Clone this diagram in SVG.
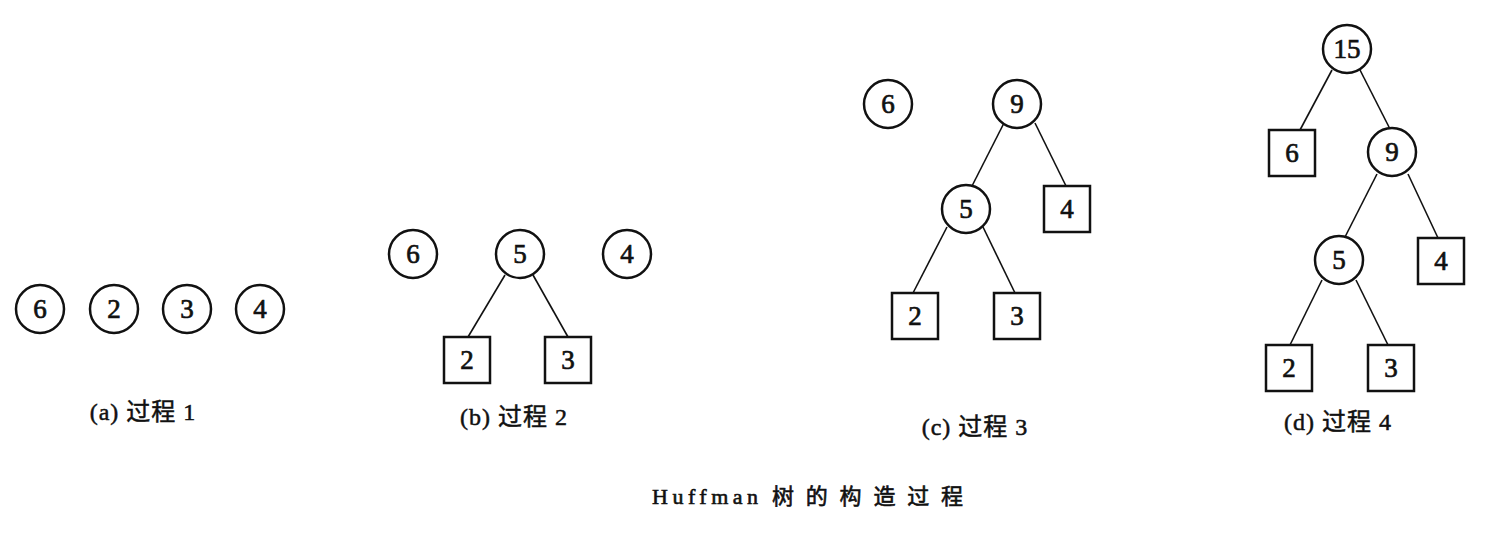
<svg xmlns="http://www.w3.org/2000/svg" width="1491" height="534" viewBox="0 0 1491 534">
<style>
.n circle{fill:#fff;stroke:#111;stroke-width:2.5}
.n rect{fill:#fff;stroke:#111;stroke-width:2.5}
.n text{font-family:"Liberation Serif","Noto Sans CJK SC",serif;font-size:27px;fill:#111;stroke:#111;stroke-width:0.7;text-anchor:middle;dominant-baseline:central}
.e line{stroke:#111;stroke-width:1.6}
.cap{font-family:"Liberation Serif","Noto Sans CJK SC",serif;font-size:24px;letter-spacing:1px;fill:#111;stroke:#111;stroke-width:0.5;text-anchor:middle}
.title{font-family:"Liberation Serif","Noto Sans CJK SC",serif;font-size:22px;fill:#111;stroke:#111;stroke-width:0.6}
</style>
<rect width="1491" height="534" fill="#fff"/>
<g id="connectors" class="e">
<line x1="505" y1="275" x2="468" y2="337"/>
<line x1="533" y1="275" x2="568" y2="337"/>
<line x1="1004" y1="123" x2="972" y2="186"/>
<line x1="1035" y1="123" x2="1066" y2="186"/>
<line x1="947" y1="227" x2="913" y2="293"/>
<line x1="983" y1="227" x2="1015" y2="293"/>
<line x1="1332" y1="70" x2="1300" y2="130"/>
<line x1="1360" y1="70" x2="1390" y2="129"/>
<line x1="1377" y1="174" x2="1345" y2="237"/>
<line x1="1408" y1="174" x2="1438" y2="238"/>
<line x1="1322" y1="280" x2="1290" y2="345"/>
<line x1="1356" y1="280" x2="1388" y2="345"/>
</g>
<g id="a6" class="n"><circle cx="40" cy="309" r="24"/><text x="40" y="309">6</text></g>
<g id="a2" class="n"><circle cx="114" cy="309" r="24"/><text x="114" y="309">2</text></g>
<g id="a3" class="n"><circle cx="187" cy="309" r="24"/><text x="187" y="309">3</text></g>
<g id="a4" class="n"><circle cx="260" cy="309" r="24"/><text x="260" y="309">4</text></g>
<g id="b6" class="n"><circle cx="413" cy="254" r="24"/><text x="413" y="254">6</text></g>
<g id="b5" class="n"><circle cx="520" cy="254" r="24"/><text x="520" y="254">5</text></g>
<g id="b4" class="n"><circle cx="627" cy="254" r="24"/><text x="627" y="254">4</text></g>
<g id="b2" class="n"><rect x="444" y="337" width="46" height="46"/><text x="467" y="360">2</text></g>
<g id="b3" class="n"><rect x="545" y="337" width="46" height="46"/><text x="568" y="360">3</text></g>
<g id="c6" class="n"><circle cx="888" cy="104" r="24"/><text x="888" y="104">6</text></g>
<g id="c9" class="n"><circle cx="1017" cy="104" r="24"/><text x="1017" y="104">9</text></g>
<g id="c5" class="n"><circle cx="966" cy="209" r="24"/><text x="966" y="209">5</text></g>
<g id="c4" class="n"><rect x="1044" y="186" width="46" height="46"/><text x="1067" y="209">4</text></g>
<g id="c2" class="n"><rect x="892" y="293" width="46" height="46"/><text x="915" y="316">2</text></g>
<g id="c3" class="n"><rect x="994" y="293" width="46" height="46"/><text x="1017" y="316">3</text></g>
<g id="d15" class="n"><circle cx="1347" cy="49" r="24"/><text x="1347" y="49">15</text></g>
<g id="d6" class="n"><rect x="1269" y="130" width="46" height="46"/><text x="1292" y="153">6</text></g>
<g id="d9" class="n"><circle cx="1392" cy="152" r="24"/><text x="1392" y="152">9</text></g>
<g id="d5" class="n"><circle cx="1339" cy="260" r="24"/><text x="1339" y="260">5</text></g>
<g id="d4" class="n"><rect x="1418" y="238" width="46" height="46"/><text x="1441" y="261">4</text></g>
<g id="d2" class="n"><rect x="1266" y="345" width="46" height="46"/><text x="1289" y="368">2</text></g>
<g id="d3" class="n"><rect x="1368" y="345" width="46" height="46"/><text x="1391" y="368">3</text></g>
<g id="captions">
<text class="cap" x="143" y="420">(a) 过程 1</text>
<text class="cap" x="514" y="425">(b) 过程 2</text>
<text class="cap" x="975" y="435">(c) 过程 3</text>
<text class="cap" x="1338" y="430">(d) 过程 4</text>
<text class="title" x="652" y="504" textLength="106" lengthAdjust="spacing">Huffman</text>
<text class="title" x="772" y="504" textLength="191" lengthAdjust="spacing">树的构造过程</text>
</g>
</svg>
